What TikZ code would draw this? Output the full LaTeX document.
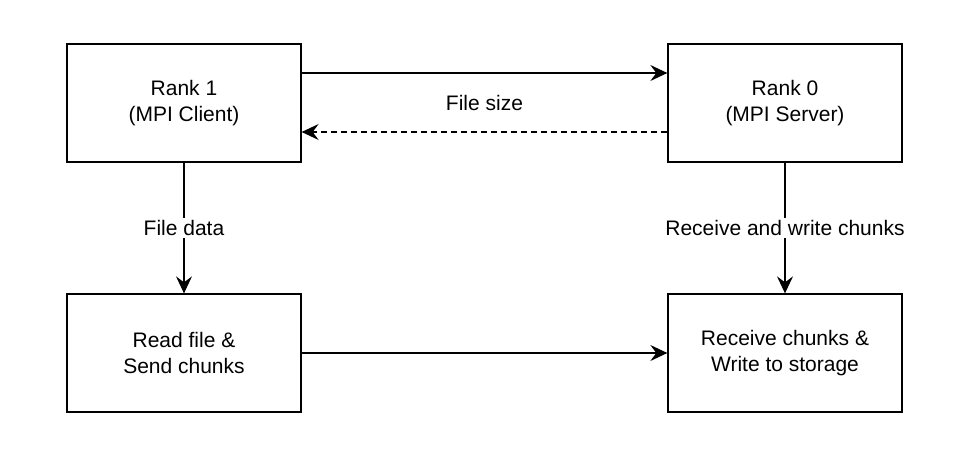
\documentclass[tikz,border=0pt]{standalone}
\usepackage{fontspec}
\setmainfont{Liberation Sans}
\usetikzlibrary{arrows.meta}
\usetikzlibrary{calc}
\usetikzlibrary{positioning}

\tikzset{
  rankbox/.style={draw, line width=1.3pt, minimum width=234pt, minimum height=118pt,
    align=center, font=\fontsize{21}{26}\selectfont},
  msg/.style={line width=1.3pt, -{Stealth[length=17pt, width=16pt, inset=6pt]}},
  msglabel/.style={fill=white, inner sep=2pt, font=\fontsize{21}{25}\selectfont}
}

\begin{document}
\begin{tikzpicture}[x=1pt, y=-1pt]

  \useasboundingbox (0,0) rectangle (980,465);

  % the two ranks
  \node[rankbox] (client) at (184,103) {Rank 1\\(MPI Client)};
  \node[rankbox] (server) at (785,103) {Rank 0\\(MPI Server)};

  % the work on each side
  \node[rankbox] (send) at (184,353) {Read file \&\\Send chunks};
  \node[rankbox] (recv) at (785,353) {Receive chunks \&\\Write to storage};

  % file size exchange
  \draw[msg] ([yshift=30pt]client.east) to ([yshift=30pt]server.west);
  \draw[msg, dashed, dash pattern=on 6pt off 4pt] ([yshift=-29pt]server.west) to ([yshift=-29pt]client.east);
  \node[msglabel] (size-label) at ($(client.east)!0.5!(server.west)$) {File size};

  % down to the chunks
  \draw[msg] (client) to node[msglabel] {File data} (send);
  \draw[msg] (server) to node[msglabel] {Receive and write chunks} (recv);

  % chunks across
  \draw[msg] (send) to (recv);

\end{tikzpicture}
\end{document}
